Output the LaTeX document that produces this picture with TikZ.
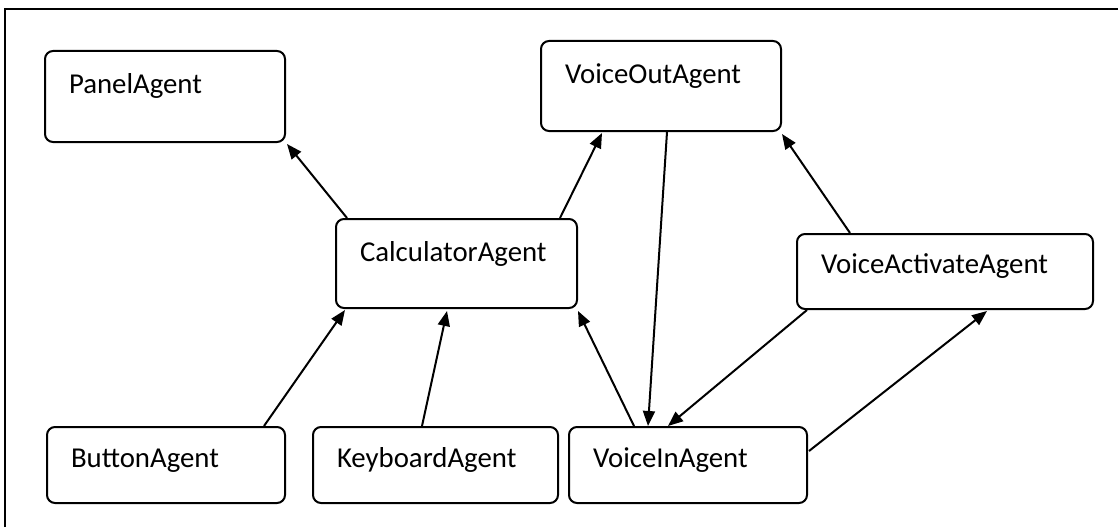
\documentclass[tikz,border=0pt]{standalone}
\usepackage{fontspec}
\setmainfont{Carlito}
\usetikzlibrary{arrows.meta,calc}
\begin{document}
\begin{tikzpicture}[x=1pt,y=-1pt,
  agent/.style={draw, line width=2pt, rounded corners=8pt, anchor=north west,
    align=left, inner xsep=24pt, inner ysep=0pt, font=\fontsize{28.8}{34}\selectfont},
  arr/.style={line width=2pt, -{Triangle[length=15pt,width=12pt]}},
  frameline/.style={line width=2pt}]
\useasboundingbox (0,0) rectangle (1118,527);
\draw[frameline] (5,527) -- (5,9) -- (1118,9);

\node[agent, text width=192pt, text height=42pt, text depth=49pt] (panel) at (44,50) {PanelAgent};
\node[agent, text width=192pt, text height=42pt, text depth=48pt] (vout) at (540,40) {VoiceOutAgent};
\node[agent, text width=193pt, text height=42pt, text depth=47pt] (calc) at (335,218) {CalculatorAgent};
\node[agent, text width=248pt, text height=39pt, text depth=36pt] (vact) at (796,233) {VoiceActivateAgent};
\node[agent, text width=190pt, text height=40pt, text depth=36pt] (button) at (46,426) {ButtonAgent};
\node[agent, text width=197pt, text height=40pt, text depth=36pt] (kb) at (312,426) {KeyboardAgent};
\node[agent, text width=190pt, text height=40pt, text depth=36pt] (vin) at (568,426) {VoiceInAgent};

\draw[arr] ($(calc.north west)+(12,0)$) -- ($(panel.south east)+(1,1)$);
\draw[arr] ($(calc.north east)+(-18,0)$) -- ($(vout.south west)+(62,1)$);
\draw[arr] ($(button.north east)+(-22,0)$) -- ($(calc.south west)+(10,1)$);
\draw[arr] ($(kb.north west)+(110,0)$) -- ($(calc.south west)+(112,2)$);
\draw[arr] ($(vin.north west)+(66,0)$) -- ($(calc.south east)+(0,2)$);
\draw[arr] ($(vout.south west)+(127,0)$) -- ($(vin.north west)+(80,0)$);
\draw[arr] ($(vact.north west)+(54,0)$) -- ($(vout.south east)+(0,2)$);
\draw[arr] ($(vact.south west)+(11,0)$) -- ($(vin.north west)+(100,0)$);
\draw[arr] ($(vin.north east)+(1,25)$) -- ($(vact.south west)+(191,1)$);
\end{tikzpicture}
\end{document}
